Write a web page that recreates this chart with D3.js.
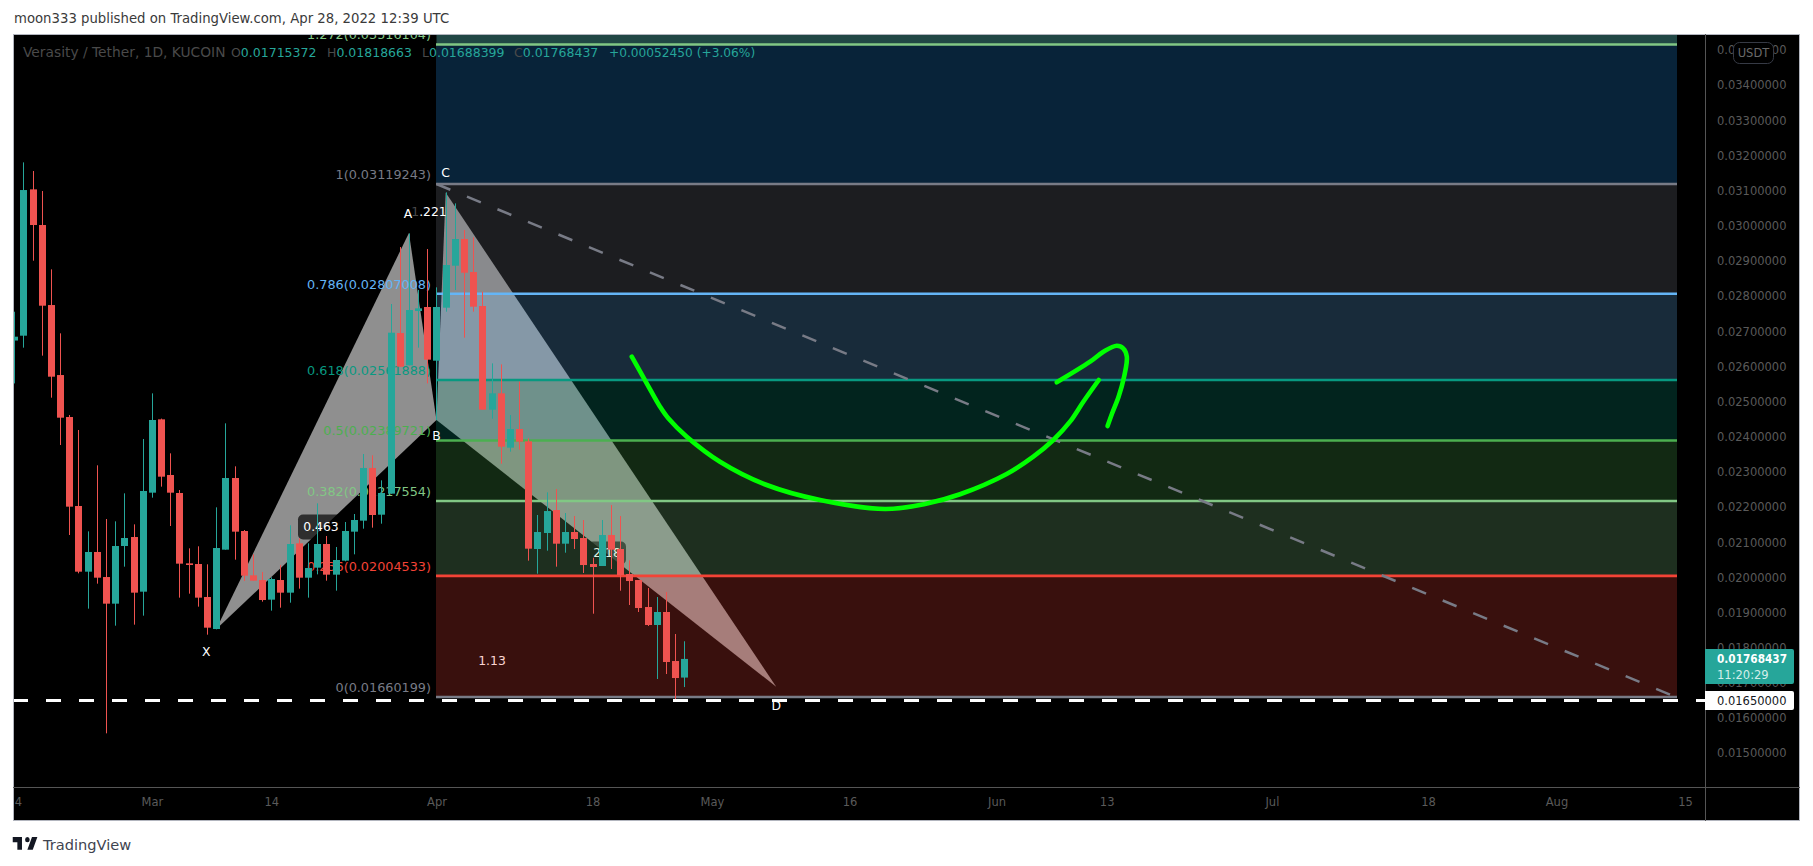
<!DOCTYPE html>
<html><head><meta charset="utf-8">
<script src="https://cdn.jsdelivr.net/npm/d3@7/dist/d3.min.js"></script>
<style>html,body{margin:0;padding:0;background:#fff;overflow:hidden}svg{display:block}text{font-family:"DejaVu Sans",sans-serif}</style>
</head><body><svg id="c" width="1813" height="866"></svg>
<script>
const opens=[.02674,.026878,.03104,.030026,.02775,.025759,.024565,.022034,.020166,.020726,.020014,.019256,.020896,.021152,.019597,.022413,.024499,.022916,.022404,.020403,.020384,.019446,.018535,.020792,.02283,.021323,.020062,.019929,.01937,.019929,.019569,.020972,.019995,.02028,.020953,.020081,.020479,.021304,.021617,.023115,.021787,.022385,.026954,.026034,.02758,.027694,.026167,.027675,.028869,.029628,.028689,.027722,.024774,.025238,.023693,.024224,.023873,.020811,.021266,.02192,.020962,.021294,.021123,.020384,.020327,.021209,.020811,.0201,.019929,.019161,.018649,.019019,.017625,.01715372];
const highs=[.02756,.031808,.031562,.030993,.028765,.026945,.024622,.024196,.021313,.023191,.021664,.021598,.022394,.021512,.02394,.025238,.02452,.023532,.022489,.02083,.020887,.020375,.021996,.024385,.023162,.021351,.020659,.020157,.020005,.020356,.021484,.021114,.020972,.022109,.021181,.020868,.021579,.021806,.023513,.023475,.022764,.027779,.0294,.029789,.028177,.029343,.028253,.030955,.030642,.029884,.029675,.02813,.026091,.026063,.024622,.02557,.023958,.021778,.022422,.022517,.021834,.021749,.021635,.020564,.021635,.022062,.021749,.020488,.019929,.019701,.019445,.019587,.018393,.01818663];
const lows=[.02552,.026537,.029011,.02631,.025115,.023769,.021209,.020119,.019114,.019825,.015568,.01863,.020308,.018659,.018915,.022271,.022584,.021465,.019427,.01954,.019171,.018374,.018526,.020792,.020507,.019901,.01991,.019313,.019057,.019142,.019284,.019683,.019427,.02009,.01991,.019626,.02046,.020659,.021389,.021418,.021531,.022385,.025996,.026034,.026537,.025522,.02448,.027561,.028177,.026821,.027561,.024774,.024518,.023238,.023579,.023636,.020479,.020109,.020763,.020308,.020706,.020811,.020128,.018971,.020327,.020242,.019625,.019218,.019019,.01862,.017113,.017255,.016516,.01688399];
const closes=[.02685,.031021,.030026,.027731,.025712,.024546,.022015,.020166,.020726,.019995,.019256,.020896,.021124,.019569,.022461,.02448,.022868,.022413,.020394,.020356,.019427,.018573,.020839,.02283,.021304,.020052,.01991,.01936,.019958,.019569,.020953,.019995,.02027,.020953,.020081,.020498,.021323,.021636,.023115,.021778,.022404,.026964,.025996,.027608,.027656,.026196,.027694,.028888,.029628,.02867,.027703,.024774,.025238,.023721,.024224,.023864,.02082,.021294,.021891,.020962,.021294,.021095,.020355,.020299,.021209,.020792,.020071,.0199,.019132,.018649,.019019,.017597,.017141,.01768437];
const firstCandle="2022-02-14";

const fibRatios=["1.272","1","0.786","0.618","0.5","0.382","0.236","0"];
const fibPrices=[.03516104,.03119243,.02807008,.02561888,.02389721,.02217554,.02004533,.01660199];
const fibLabels=["1.272(0.03516104)","1(0.03119243)","0.786(0.02807008)","0.618(0.02561888)","0.5(0.02389721)","0.382(0.02217554)","0.236(0.02004533)","0(0.01660199)"];
const fibColors=["#81c784","#787b86","#64b5f6","#089981","#4caf50","#81c784","#f44336","#787b86"];
const fibBandColors=["#2196f3","#787b86","#64b5f6","#089981","#4caf50","#81c784","#f44336"];
const fibTopPrice=.0365;

const patternNames=["X","A","B","C","D"];
const patternDates=["2022-03-08","2022-03-29","2022-04-01","2022-04-02","2022-05-08"];
const patternPrices=[.018526,.02980,.02448,.03095,.016894];
const ratioLabels=["0.463","1.221","2.18","1.13"];

const trendDates=["2022-04-01","2022-08-14"];
const trendPrices=[.03119243,.01660199];
const supportPrice=.0165;
const arrowBodyDays=[52.27,53.9,55.35,56.25,58.26,61.88,66.97,72.78,79.86,84.21,88.03,93.11,96.01,98.19,100.01,101.46,103.14];
const arrowBodyPrices=[.02628,.025524,.024858,.024528,.024005,.023294,.022631,.022204,.021949,.022091,.022367,.022944,.023436,.023911,.024432,.025,.025618];
const arrowHeadDays=[98.56,102.2,103.65,105.1,105.8,106.2,105.9,105.3,104.6,104.1];
const arrowHeadPrices=[.025552,.026138,.026422,.026593,.026519,.02628,.025712,.025143,.024671,.024309];

const priceTicks=[.015,.016,.017,.018,.019,.02,.021,.022,.023,.024,.025,.026,.027,.028,.029,.03,.031,.032,.033,.034,.035];
const timeTickDates=["2022-02-14","2022-03-01","2022-03-14","2022-04-01","2022-04-18","2022-05-01","2022-05-16","2022-06-01","2022-06-13","2022-07-01","2022-07-18","2022-08-01","2022-08-15"];
const timeTickLabels=["14","Mar","14","Apr","18","May","16","Jun","13","Jul","18","Aug","15"];

const legendName="Verasity / Tether, 1D, KUCOIN";
const legendParts=[["O","0.01715372",231],["H","0.01818663",327],["L","0.01688399",422],["C","0.01768437",514]];
const legendChange="+0.00052450 (+3.06%)";

const W=1813,H=866,L=13,PR=1705,FR=1800,T=34,AB=787,FB=821;
const UP="#26a69a",DN="#ef5350";
const d=s=>new Date(s+"T00:00:00Z");
const x=d3.scaleUtc().domain([d("2022-03-01"),d("2022-08-15")]).range([151.9,1685]);
const y=d3.scaleLinear().domain([.015,.034]).range([753.3,85.3]);
const xDay=n=>x(new Date(+d("2022-03-01")+n*864e5));
const svg=d3.select("#c");
const defs=svg.append("defs");
defs.append("clipPath").attr("id","pane").append("rect").attr("x",L).attr("y",T).attr("width",PR-L).attr("height",AB-T);
defs.append("clipPath").attr("id","taxis").append("rect").attr("x",L).attr("y",AB).attr("width",PR-L).attr("height",FB-AB);

svg.append("text").attr("x",14).attr("y",23).attr("font-size",13.25).attr("fill","#3a3a3a").text("moon333 published on TradingView.com, Apr 28, 2022 12:39 UTC");
svg.append("rect").attr("x",L).attr("y",T).attr("width",FR-L).attr("height",FB-T).attr("fill","#000");

const pane=svg.append("g").attr("clip-path","url(#pane)");
// pattern
const px=patternDates.map(s=>x(d(s))), py=patternPrices.map(v=>y(v));
const polyPts=ix=>ix.map(i=>[px[i],py[i]].join(",")).join(" ");
pane.append("polygon").attr("points",polyPts([0,1,2])).attr("fill","#fff").attr("fill-opacity",.56);
pane.append("polygon").attr("points",polyPts([2,3,4])).attr("fill","#fff").attr("fill-opacity",.56);

// ratio pills
function pill(cx,cy,w,h,txt,col){
  pane.append("rect").attr("x",cx-w/2).attr("y",cy-h/2).attr("width",w).attr("height",h).attr("rx",5).attr("fill","#000").attr("fill-opacity",.68);
  pane.append("text").attr("x",cx).attr("y",cy+4.3).attr("text-anchor","middle").attr("font-size",12.4).attr("fill",col).text(txt);
}
pill(321,527,46,25,ratioLabels[0],"#fff");
pill(607,553,38,23,ratioLabels[2],"#fff");
pane.append("text").attr("x",492).attr("y",665).attr("text-anchor","middle").attr("font-size",12.4).attr("fill","#fff").text(ratioLabels[3]);

// fib bands over the pattern
const topBandY=y(fibPrices[0]);
pane.append("rect").attr("x",x(d("2022-04-01"))).attr("y",y(fibTopPrice)).attr("width",1677-x(d("2022-04-01"))).attr("height",topBandY-y(fibTopPrice)).attr("fill","#214745");
fibBandColors.forEach((c,i)=>{
  pane.append("rect").attr("x",436).attr("width",1677-436).attr("y",y(fibPrices[i])).attr("height",y(fibPrices[i+1])-y(fibPrices[i])).attr("fill",c).attr("fill-opacity",.235);
});
fibPrices.forEach((p,i)=>{
  pane.append("line").attr("x1",436).attr("x2",1677).attr("y1",y(p)).attr("y2",y(p)).attr("stroke",fibColors[i]).attr("stroke-width",2.6);
  pane.append("text").attr("x",431).attr("y",y(p)-5).attr("text-anchor","end").attr("font-size",12.8).attr("fill",fibColors[i]).text(fibLabels[i]);
});

// trend line
pane.append("line").attr("x1",x(d(trendDates[0]))).attr("y1",y(trendPrices[0])).attr("x2",x(d(trendDates[1]))).attr("y2",y(trendPrices[1]))
  .attr("stroke","#787b86").attr("stroke-width",2.5).attr("stroke-dasharray","15 18");

// candles
const dates=d3.range(opens.length).map(i=>d3.utcDay.offset(d(firstCandle),i));
const cg=pane.append("g");
cg.selectAll("line").data(dates).join("line").attr("x1",t=>Math.round(x(t))+.5).attr("x2",t=>Math.round(x(t))+.5)
  .attr("y1",(t,i)=>y(highs[i])).attr("y2",(t,i)=>y(lows[i])).attr("stroke",(t,i)=>closes[i]>=opens[i]?UP:DN).attr("stroke-width",1);
cg.selectAll("rect").data(dates).join("rect").attr("x",t=>Math.round(x(t))+.5-3.5).attr("width",7)
  .attr("y",(t,i)=>y(Math.max(opens[i],closes[i]))).attr("height",(t,i)=>Math.max(1,Math.abs(y(opens[i])-y(closes[i]))))
  .attr("fill",(t,i)=>closes[i]>=opens[i]?UP:DN);

// support dashed
pane.append("line").attr("x1",L).attr("x2",PR).attr("y1",y(supportPrice)).attr("y2",y(supportPrice)).attr("stroke","#fff").attr("stroke-width",3).attr("stroke-dasharray","15 18");

// green arrow
const line=d3.line().x(p=>xDay(p[0])).y(p=>y(p[1])).curve(d3.curveCatmullRom.alpha(.5));
[[arrowBodyDays,arrowBodyPrices],[arrowHeadDays,arrowHeadPrices]].forEach(([a,b])=>{
  pane.append("path").attr("d",line(a.map((v,i)=>[v,b[i]]))).attr("fill","none").attr("stroke","#00ff00").attr("stroke-width",4.6).attr("stroke-linecap","round").attr("stroke-linejoin","round");
});

// point labels
const labelPos=[[-10,23],[-1,-19],[0,16],[0,-20],[0,19]];
patternNames.forEach((n,i)=>{
  pane.append("text").attr("x",px[i]+labelPos[i][0]).attr("y",py[i]+labelPos[i][1]+4).attr("text-anchor","middle").attr("font-size",12.4).attr("fill","#fff").text(n);
});
const r=pane.append("text").attr("x",429).attr("y",216).attr("text-anchor","middle").attr("font-size",12.4).attr("fill","#fff");
r.append("tspan").attr("fill-opacity",.3).text(ratioLabels[1].slice(0,1));
r.append("tspan").text(ratioLabels[1].slice(1));

// legend
svg.append("text").attr("x",23).attr("y",57).attr("font-size",13.8).attr("fill","#4a4a4a").text(legendName);
legendParts.forEach(([k,v,lx])=>{
  const t=svg.append("text").attr("x",lx).attr("y",57).attr("font-size",12.5);
  t.append("tspan").attr("fill","#4a4a4a").text(k);
  t.append("tspan").attr("fill",UP).text(v);
});
svg.append("text").attr("x",609).attr("y",57).attr("font-size",12.2).attr("fill",UP).text(legendChange);

// axes
const ya=svg.append("g").attr("transform",`translate(${PR},0)`).call(d3.axisRight(y).tickValues(priceTicks).tickFormat(d3.format(".8f")).tickSize(0).tickPadding(12));
ya.select(".domain").remove();
ya.selectAll("text").attr("font-size",11.5).attr("fill","#5a5a5a").attr("font-family",'"DejaVu Sans",sans-serif');
const xa=svg.append("g").attr("clip-path","url(#taxis)").append("g").attr("transform",`translate(0,${AB})`).call(d3.axisBottom(x).tickValues(timeTickDates.map(d)).tickFormat((t,i)=>timeTickLabels[i]).tickSize(0).tickPadding(11));
xa.select(".domain").remove();
xa.selectAll("text").attr("font-size",11.5).attr("fill","#5a5a5a").attr("font-family",'"DejaVu Sans",sans-serif');

// frame
svg.append("rect").attr("x",L+.5).attr("y",T+.5).attr("width",FR-L-1).attr("height",FB-T-1).attr("fill","none").attr("stroke","#b2b5be");
svg.append("line").attr("x1",PR+.5).attr("x2",PR+.5).attr("y1",T).attr("y2",FB).attr("stroke","#555");
svg.append("line").attr("x1",L).attr("x2",FR).attr("y1",AB+.5).attr("y2",AB+.5).attr("stroke","#555");

// price tags
svg.append("rect").attr("x",1733.5).attr("y",42.5).attr("width",40).attr("height",21).attr("rx",6).attr("fill","#000").attr("stroke","#363a45");
svg.append("text").attr("x",1753.5).attr("y",57).attr("text-anchor","middle").attr("font-size",11.5).attr("fill","#6a6a6a").text("USDT");
svg.append("path").attr("d","M1705 649h87a2 2 0 0 1 2 2v31a2 2 0 0 1 -2 2h-87z").attr("fill",UP);
svg.append("text").attr("x",1717).attr("y",663).attr("font-size",11.5).attr("font-weight","bold").attr("textLength",70).attr("lengthAdjust","spacingAndGlyphs").attr("fill","#fff").text(d3.format(".8f")(closes[closes.length-1]));
svg.append("text").attr("x",1717).attr("y",679).attr("font-size",11.5).attr("fill","#d4eeeb").text("11:20:29");
svg.append("path").attr("d","M1705 691h87a2 2 0 0 1 2 2v15a2 2 0 0 1 -2 2h-87z").attr("fill","#fff");
svg.append("text").attr("x",1717).attr("y",705).attr("font-size",11.5).attr("fill","#131722").text(d3.format(".8f")(supportPrice));

// logo
svg.append("path").attr("d","M14 6H2v6h6v9h6V6zm14 15h-7l6-15h7l-6 15zm-7-9a3 3 0 1 0 0-6 3 3 0 0 0 0 6z").attr("transform","translate(11.2,832)scale(.77,.85)").attr("fill","#131722");
svg.append("text").attr("x",43).attr("y",850).attr("font-size",14.6).attr("font-family",'"DejaVu Sans"').attr("fill","#3f4450").text("TradingView");
</script></body></html>
